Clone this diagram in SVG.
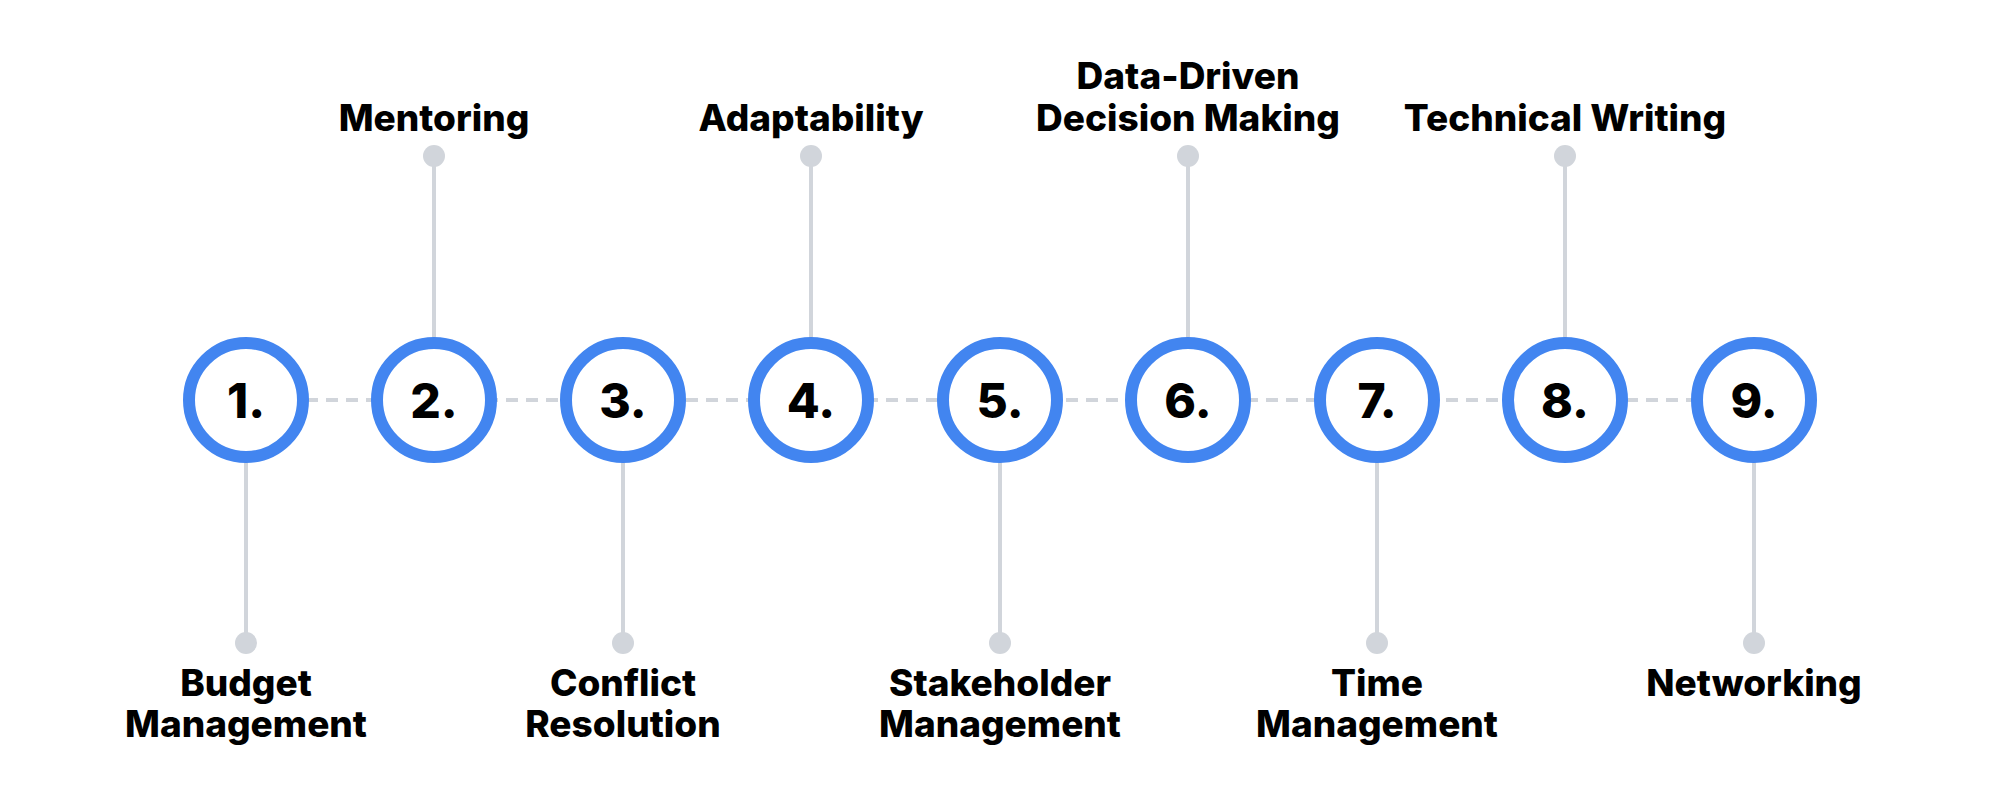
<svg xmlns="http://www.w3.org/2000/svg" width="2000" height="800" viewBox="0 0 2000 800">
<style>
.c{fill:#fff;stroke:#4285f0;stroke-width:12}
.n{font-family:Inter,"Liberation Sans",sans-serif;font-weight:800;font-size:48px;text-anchor:middle;fill:#000}
.t{font-family:Inter,"Liberation Sans",sans-serif;font-weight:800;font-size:37px;text-anchor:middle;fill:#000}
.s{stroke:#d1d5db;stroke-width:4;fill:none}
.d{stroke:#d1d5db;stroke-width:4;stroke-dasharray:12 8}
.p{fill:#d1d5db}
</style>
<rect width="2000" height="800" fill="#fff"/>
<g id="connectors">
<line class="d" x1="246" y1="400" x2="1754" y2="400"/>
<line class="s" x1="246" y1="400" x2="246" y2="643"/><circle class="p" cx="246" cy="643" r="11"/>
<line class="s" x1="434" y1="400" x2="434" y2="156"/><circle class="p" cx="434" cy="156" r="11"/>
<line class="s" x1="623" y1="400" x2="623" y2="643"/><circle class="p" cx="623" cy="643" r="11"/>
<line class="s" x1="811" y1="400" x2="811" y2="156"/><circle class="p" cx="811" cy="156" r="11"/>
<line class="s" x1="1000" y1="400" x2="1000" y2="643"/><circle class="p" cx="1000" cy="643" r="11"/>
<line class="s" x1="1188" y1="400" x2="1188" y2="156"/><circle class="p" cx="1188" cy="156" r="11"/>
<line class="s" x1="1377" y1="400" x2="1377" y2="643"/><circle class="p" cx="1377" cy="643" r="11"/>
<line class="s" x1="1565" y1="400" x2="1565" y2="156"/><circle class="p" cx="1565" cy="156" r="11"/>
<line class="s" x1="1754" y1="400" x2="1754" y2="643"/><circle class="p" cx="1754" cy="643" r="11"/>
</g>
<g id="n1"><circle class="c" cx="246" cy="400" r="57"/><text class="n" x="246" y="418">1.</text><text class="t" x="246" y="696">Budget</text><text class="t" x="246" y="737">Management</text></g>
<g id="n2"><circle class="c" cx="434" cy="400" r="57"/><text class="n" x="434" y="418">2.</text><text class="t" x="434" y="131">Mentoring</text></g>
<g id="n3"><circle class="c" cx="623" cy="400" r="57"/><text class="n" x="623" y="418">3.</text><text class="t" x="623" y="696">Conflict</text><text class="t" x="623" y="737">Resolution</text></g>
<g id="n4"><circle class="c" cx="811" cy="400" r="57"/><text class="n" x="811" y="418">4.</text><text class="t" x="811" y="131">Adaptability</text></g>
<g id="n5"><circle class="c" cx="1000" cy="400" r="57"/><text class="n" x="1000" y="418">5.</text><text class="t" x="1000" y="696">Stakeholder</text><text class="t" x="1000" y="737">Management</text></g>
<g id="n6"><circle class="c" cx="1188" cy="400" r="57"/><text class="n" x="1188" y="418">6.</text><text class="t" x="1188" y="89">Data-Driven</text><text class="t" x="1188" y="131">Decision Making</text></g>
<g id="n7"><circle class="c" cx="1377" cy="400" r="57"/><text class="n" x="1377" y="418">7.</text><text class="t" x="1377" y="696">Time</text><text class="t" x="1377" y="737">Management</text></g>
<g id="n8"><circle class="c" cx="1565" cy="400" r="57"/><text class="n" x="1565" y="418">8.</text><text class="t" x="1565" y="131">Technical Writing</text></g>
<g id="n9"><circle class="c" cx="1754" cy="400" r="57"/><text class="n" x="1754" y="418">9.</text><text class="t" x="1754" y="696">Networking</text></g>
</svg>
